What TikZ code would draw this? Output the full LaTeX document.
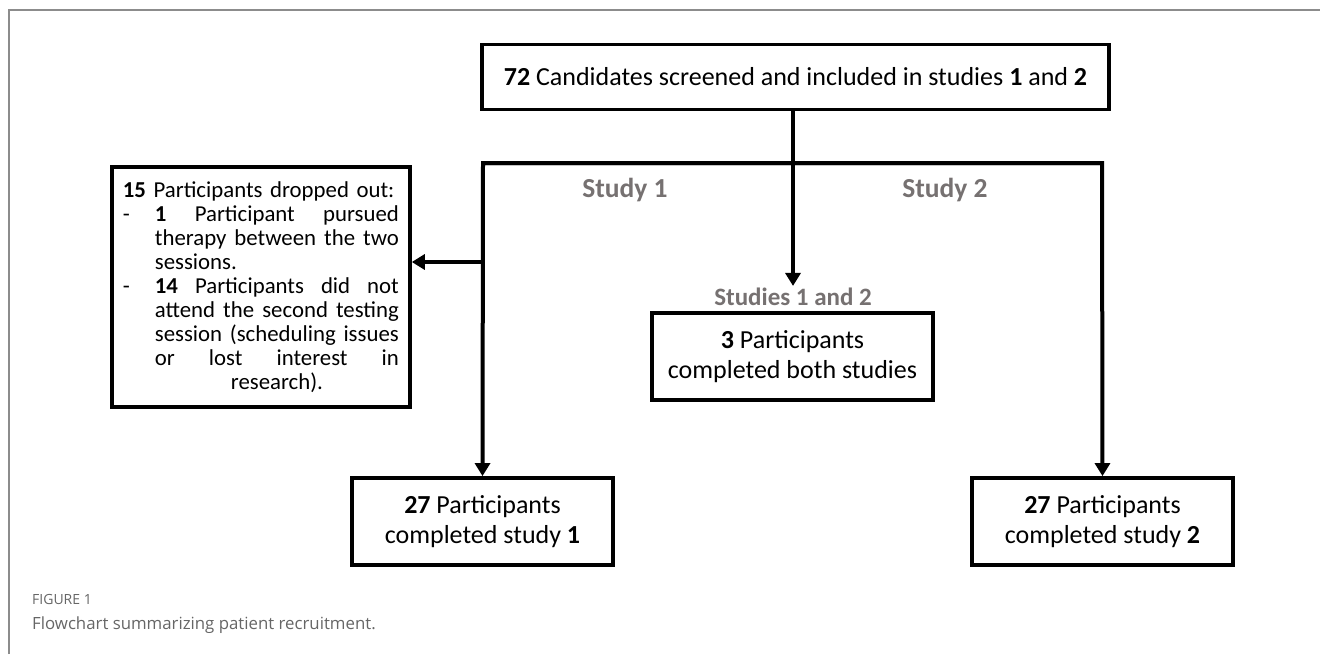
\documentclass[tikz,border=0pt]{standalone}
\usepackage{fontspec}
\setmainfont{Carlito}
\newfontfamily\capfont{Open Sans}
\usetikzlibrary{arrows.meta}
\definecolor{lblgray}{HTML}{767171}
\definecolor{framegray}{HTML}{8C8C8C}
\definecolor{capgray}{HTML}{666666}
\newcommand{\dashline}[1]{\makebox[32pt][l]{-}\hbox to 244pt{#1}}
\newcommand{\contline}[1]{\hspace*{32pt}\hbox to 244pt{#1}}
\begin{document}
\begin{tikzpicture}[x=1pt,y=-1pt,
  box/.style={draw,line width=3.8pt,align=center,inner sep=0pt,font=\fontsize{26}{30}\selectfont},
  arr/.style={line width=4pt,line join=miter,-{Triangle[width=15pt,length=13pt]}},
  lbl/.style={text=lblgray,inner sep=2pt,font=\fontsize{25}{30}\selectfont\bfseries},
  frame/.style={draw=framegray,line width=2pt}]
\useasboundingbox (0,0) rectangle (1320,654);
\fill[white] (0,0) rectangle (1320,654);
% frame
\coordinate (fbl) at (9,654);
\coordinate (ftl) at (9,10);
\coordinate (ftr) at (1320,10);
\draw[frame] (fbl) -- (ftl) -- (ftr);
% nodes
\node[box,minimum width=627pt,minimum height=65pt] (top) at (795.5,77)
  {\textbf{72} Candidates screened and included in studies \textbf{1} and \textbf{2}};
\node[lbl,font=\fontsize{27.5}{30}\selectfont\bfseries] (l1) at (625,190) {Study 1};
\node[lbl,font=\fontsize{27.5}{30}\selectfont\bfseries] (l2) at (945,190) {Study 2};
\node[lbl] (l12) at (793,297) {Studies 1 and 2};
\node[box,minimum width=281pt,minimum height=87pt] (both) at (792.5,356.5)
  {\textbf{3} Participants\\completed both studies};
\node[box,minimum width=261pt,minimum height=87pt] (s1) at (482.5,521.5)
  {\textbf{27} Participants\\completed study \textbf{1}};
\node[box,minimum width=261pt,minimum height=87pt] (s2) at (1102.5,521.5)
  {\textbf{27} Participants\\completed study \textbf{2}};
\node[draw,line width=3.8pt,anchor=north west,inner xsep=11pt,inner ysep=5pt,
  text width=276pt,minimum height=240pt,align=left,
  font=\fontsize{22.8}{24}\selectfont] (drop) at (110,165)
  {\hbox{\textbf{15} Participants dropped out:}\\
   \dashline{\textbf{1}\hfill Participant\hfill pursued}\\
   \contline{therapy\hfill between\hfill the\hfill two}\\
   \hspace*{32pt}sessions.\\
   \dashline{\textbf{14}\hfill Participants\hfill did\hfill not}\\
   \contline{attend\hfill the\hfill second\hfill testing}\\
   \contline{session\hfill (scheduling\hfill issues}\\
   \contline{or\hfill lost\hfill interest\hfill in}\\
   \contline{\hfill research).\hfill}};
% connectors
\coordinate (bl) at (483,163);
\coordinate (br) at (1102,163);
\coordinate (dj) at (483,262);
\draw[arr] (top.south -| l12) -- (l12.north);
\draw[arr] (br) -- (bl) -- (s1.north);
\draw[arr] (bl) -- (br) -- (s2.north);
\draw[arr] (dj) -- (drop.east |- dj);
% caption
\node[anchor=base west,inner sep=0pt,text=capgray,font=\capfont\fontsize{14}{16}\selectfont] (fig) at (32,604) {FIGURE 1};
\node[anchor=base west,inner sep=0pt,text=capgray,font=\capfont\fontsize{16.8}{20}\selectfont] (cap) at (32,629) {Flowchart summarizing patient recruitment.};
\end{tikzpicture}
\end{document}
